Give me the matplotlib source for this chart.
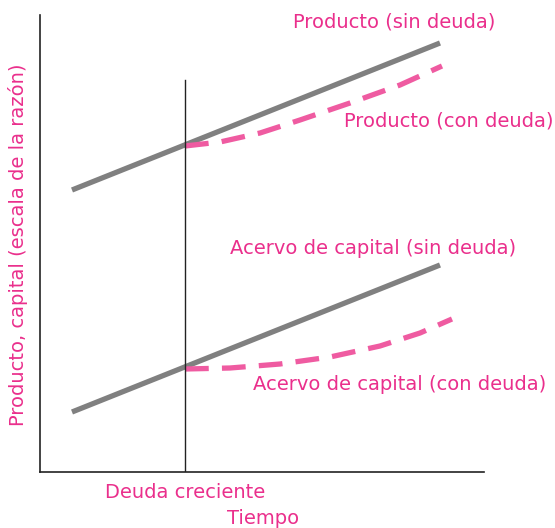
import matplotlib
matplotlib.use("Agg")
import matplotlib.pyplot as plt

# values (time on x, ratio-scale level on y)
t_prod = [32, 400]
prod_sin = [282, 429]
t_prod_con = [145, 180, 220, 260, 310, 360, 402]
prod_con = [326, 330, 339, 352, 369, 387, 406]

t_cap = [32, 400]
cap_sin = [60, 207]
t_cap_con = [145, 190, 240, 290, 340, 380, 412]
cap_con = [103, 104, 108, 115, 126, 139, 153]

t_deuda = 145

gray = "#808080"
pink = "#EF5BA1"
text_pink = "#EA2F8C"
plt.rcParams["font.family"] = ["DejaVu Sans"]

fig = plt.figure(figsize=(5.55, 5.28), dpi=100)
W, H = 555, 528
ax = fig.add_axes([40 / W, 1 - 472 / H, 444 / W, 457 / H])
ax.set_xlim(0, 444)
ax.set_ylim(0, 457)
for s in ["top", "right"]:
    ax.spines[s].set_visible(False)
for s in ["left", "bottom"]:
    ax.spines[s].set_color("#222222")
    ax.spines[s].set_linewidth(1.2)
ax.set_xticks([])
ax.set_yticks([])

ax.plot(t_prod, prod_sin, color=gray, lw=3.8, solid_capstyle="butt")
ax.plot(t_prod_con, prod_con, color=pink, lw=3.8, linestyle=(0, (4.5, 2.5)))
ax.plot(t_cap, cap_sin, color=gray, lw=3.8, solid_capstyle="butt")
ax.plot(t_cap_con, cap_con, color=pink, lw=3.8, linestyle=(0, (4.5, 2.5)))
ax.plot([t_deuda, t_deuda], [0, 392], color="#222222", lw=1.0)

fs = 14
ax.text(354, 450, "Producto (sin deuda)", color=text_pink, fontsize=fs, ha="center", va="center")
ax.text(409, 351, "Producto (con deuda)", color=text_pink, fontsize=fs, ha="center", va="center")
ax.text(333, 223, "Acervo de capital (sin deuda)", color=text_pink, fontsize=fs, ha="center", va="center")
ax.text(360, 88, "Acervo de capital (con deuda)", color=text_pink, fontsize=fs, ha="center", va="center")
ax.text(t_deuda, -20, "Deuda creciente", color=text_pink, fontsize=fs, ha="center", va="center", clip_on=False)
ax.text(223, -47, "Tiempo", color=text_pink, fontsize=fs, ha="center", va="center", clip_on=False)
ax.text(-22, 227, "Producto, capital (escala de la razón)", color=text_pink, fontsize=fs,
        ha="center", va="center", rotation=90, clip_on=False)

fig.savefig("out.png", dpi=100)
